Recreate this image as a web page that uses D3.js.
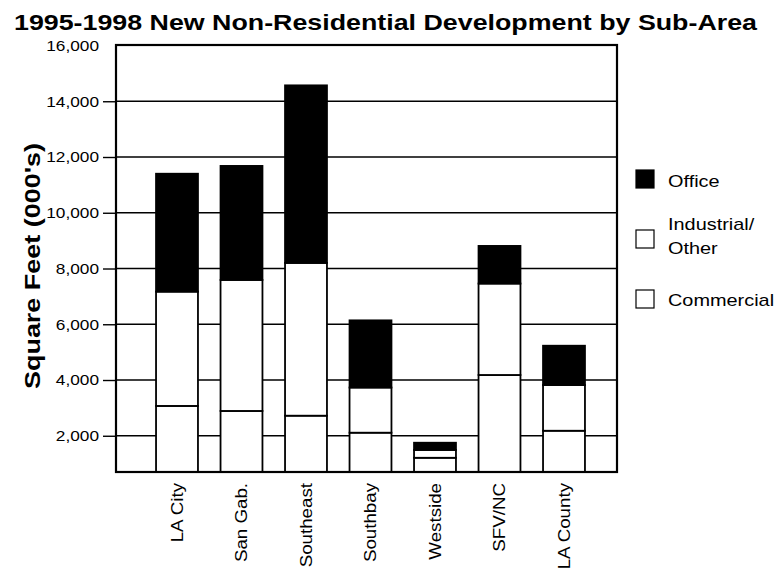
<!DOCTYPE html>
<html>
<head>
<meta charset="utf-8">
<script src="https://cdn.jsdelivr.net/npm/d3@7"></script>
<style>
  html, body { margin: 0; padding: 0; background: #fff; }
  svg { display: block; }
  text { font-family: "Liberation Sans", Arial, Helvetica, sans-serif; fill: #000; }
</style>
</head>
<body>
<svg id="chart" width="780" height="571"></svg>
<script>
// ---- data (thousands of square feet) ----
const categories = ["LA City", "San Gab.", "Southeast", "Southbay", "Westside", "SFV/NC", "LA County"];
const commercial = [3070, 2890, 2720, 2110, 1210, 4180, 2180];
const industrial = [4100, 4700, 5480, 1620, 280, 3280, 1640];
const office     = [4230, 4090, 6370, 2410, 260, 1350, 1410];
const seriesNames = ["Commercial", "Industrial/Other", "Office"];
const yTicks = [2000, 4000, 6000, 8000, 10000, 12000, 14000, 16000];
const title = "1995-1998 New Non-Residential Development by Sub-Area";
const yTitle = "Square Feet (000's)";

const rows = categories.map((c, i) => ({
  cat: c, "Commercial": commercial[i], "Industrial/Other": industrial[i], "Office": office[i]
}));

const svg = d3.select("#chart");
const frame = { left: 116, right: 617, top: 45, bottom: 472 };

const y = d3.scaleLinear().domain([700, 16000]).range([frame.bottom, frame.top + 0.5]).clamp(true);
const x = d3.scaleBand().domain(categories).range([144.75, 596.25]).paddingInner(0.35).paddingOuter(0.175);

const fills = { "Commercial": "#fff", "Industrial/Other": "#fff", "Office": "#000" };

function stretch(sel, k) {
  sel.each(function () {
    const L = this.getComputedTextLength();
    this.setAttribute("textLength", L * k);
    this.setAttribute("lengthAdjust", "spacingAndGlyphs");
  });
}

// title
svg.append("text")
  .attr("x", 14).attr("y", 30)
  .attr("font-size", 22).attr("font-weight", "bold")
  .attr("textLength", 743).attr("lengthAdjust", "spacingAndGlyphs")
  .text(title);

// gridlines
svg.append("g").selectAll("line")
  .data(yTicks.filter(d => d < 16000))
  .join("line")
  .attr("x1", frame.left).attr("x2", frame.right)
  .attr("y1", d => y(d)).attr("y2", d => y(d))
  .attr("stroke", "#000").attr("stroke-width", 1.4);

// y axis
const yAxis = svg.append("g")
  .attr("transform", `translate(${frame.left},0)`)
  .call(d3.axisLeft(y).tickValues(yTicks).tickFormat(d3.format(",")).tickSize(13).tickPadding(4));
yAxis.select(".domain").remove();
yAxis.selectAll(".tick line").attr("stroke", "#000").attr("stroke-width", 1.4)
  .filter(d => d === 16000).remove();
yAxis.selectAll(".tick text").attr("font-size", 15).attr("font-family", "Liberation Sans, Arial, sans-serif").attr("fill", "#000");
stretch(yAxis.selectAll(".tick text"), 1.15);

// bars
const stacked = d3.stack().keys(seriesNames)(rows);
svg.append("g").selectAll("g")
  .data(stacked)
  .join("g")
  .attr("fill", d => fills[d.key])
  .selectAll("rect")
  .data(d => d)
  .join("rect")
  .attr("x", d => x(d.data.cat))
  .attr("width", x.bandwidth())
  .attr("y", d => y(d[1]))
  .attr("height", d => y(d[0]) - y(d[1]))
  .attr("stroke", "#000").attr("stroke-width", 1.8);

// frame
svg.append("rect")
  .attr("x", frame.left).attr("y", frame.top)
  .attr("width", frame.right - frame.left).attr("height", frame.bottom - frame.top)
  .attr("fill", "none").attr("stroke", "#000").attr("stroke-width", 2.2);

// x labels
const xl = svg.append("g").selectAll("text")
  .data(categories)
  .join("text")
  .attr("transform", d => `translate(${x(d) + x.bandwidth() / 2},483) rotate(-90)`)
  .attr("text-anchor", "end")
  .attr("dy", "0.35em")
  .attr("font-size", 16)
  .text(d => d);
stretch(xl, 1.17);

// y title
svg.append("text")
  .attr("transform", "translate(40,266) rotate(-90)")
  .attr("text-anchor", "middle")
  .attr("font-size", 22).attr("font-weight", "bold")
  .attr("textLength", 246).attr("lengthAdjust", "spacingAndGlyphs")
  .text(yTitle);

// legend
const legendItems = [
  { key: "Office", lines: ["Office"], sy: 170, ty: 187 },
  { key: "Industrial/Other", lines: ["Industrial/", "Other"], sy: 230, ty: 230 },
  { key: "Commercial", lines: ["Commercial"], sy: 290, ty: 306 }
];
const lg = svg.append("g").selectAll("g").data(legendItems).join("g");
lg.append("rect")
  .attr("x", 636).attr("y", d => d.sy).attr("width", 18).attr("height", 18)
  .attr("fill", d => fills[d.key]).attr("stroke", "#000").attr("stroke-width", 1.2);
const lt = lg.selectAll("text").data(d => d.lines.map((l, i) => ({ l, y: d.ty + i * 24 })))
  .join("text")
  .attr("x", 668).attr("y", d => d.y)
  .attr("font-size", 17)
  .text(d => d.l);
stretch(lt, 1.17);
</script>
</body>
</html>
